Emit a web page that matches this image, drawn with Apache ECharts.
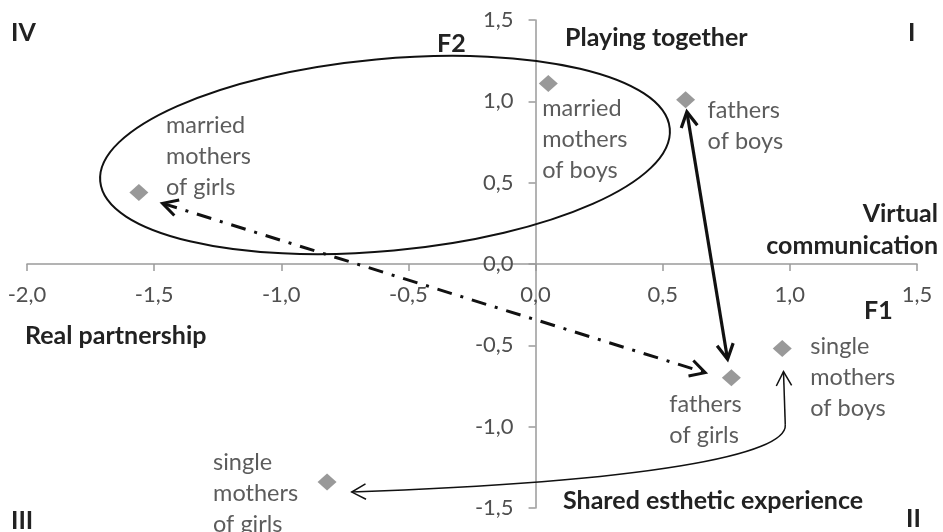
<!DOCTYPE html>
<html>
<head>
<meta charset="utf-8">
<script src="https://cdn.jsdelivr.net/npm/echarts@6/dist/echarts.min.js"></script>
<style>
html,body{margin:0;padding:0;background:#fff;}
#main{width:943px;height:532px;}
</style>
</head>
<body>
<div id="main"></div>
<script>
// points of the correspondence map (F1, F2)
var groups = ['married\nmothers\nof girls', 'married\nmothers\nof boys', 'fathers\nof boys', 'fathers\nof girls', 'single\nmothers\nof boys', 'single\nmothers\nof girls'];
var f1Values = [-1.56, 0.05, 0.59, 0.77, 0.97, -0.82];
var f2Values = [0.44, 1.11, 1.01, -0.70, -0.52, -1.34];
var xTicks = [-2.0, -1.5, -1.0, -0.5, 0.0, 0.5, 1.0, 1.5];
var yTicks = [-1.5, -1.0, -0.5, 0.0, 0.5, 1.0, 1.5];

// where each point label sits (offset from the diamond)
var labelPos = [
	{offset: [27, -36]},
	{offset: [-6, 56]},
	{offset: [22, 26]},
	{offset: [-62, 42]},
	{offset: [28, 29]},
	{offset: [-114, 11]}
];

var FONT = 'Lato';

function fmt(v){
	return v.toFixed(1).replace('.', ',');
}

var chart = echarts.init(document.getElementById('main'));

var option = {
	animation: false,
	grid: {left: 27, right: 26, top: 20, bottom: 24, containLabel: false, outerBoundsMode: 'none'},
	xAxis: {
		type: 'value',
		position: 'bottom',
		min: xTicks[0],
		max: xTicks[xTicks.length - 1],
		interval: 0.5,
		axisLine: {onZero: false, lineStyle: {color: '#9a9a9a', width: 1.5}},
		axisTick: {show: true, length: 7, lineStyle: {color: '#9a9a9a', width: 1.5}},
		axisLabel: {margin: 20, fontSize: 22, color: '#505050', fontFamily: FONT, formatter: fmt},
		splitLine: {show: false}
	},
	yAxis: {
		type: 'value',
		position: 'left',
		min: yTicks[0],
		max: yTicks[yTicks.length - 1],
		interval: 0.5,
		axisLine: {onZero: false, lineStyle: {color: '#9a9a9a', width: 1.5}},
		axisTick: {show: true, length: 7, lineStyle: {color: '#9a9a9a', width: 1.5}},
		axisLabel: {margin: 22, fontSize: 22, color: '#505050', fontFamily: FONT, formatter: fmt},
		splitLine: {show: false}
	},
	series: [{
		type: 'scatter',
		symbol: 'diamond',
		symbolSize: [19, 17],
		itemStyle: {color: '#7f7f7f'},
		z: 5,
		data: groups.map(function(name, i){
			return {
				value: [f1Values[i], f2Values[i]],
				name: name,
				label: {
					show: true,
					position: 'inside',
					align: 'left',
					verticalAlign: 'middle',
					offset: labelPos[i].offset,
					formatter: name,
					fontSize: 23.5,
					lineHeight: 31,
					fontFamily: FONT,
					color: '#333333'
				}
			};
		})
	}]
};
chart.setOption(option);

function px(p){
	return chart.convertToPixel({gridIndex: 0}, p);
}

// move both axes onto the zero lines
var zero = px([0, 0]);
var corner = px([xTicks[0], yTicks[0]]);
chart.setOption({
	xAxis: {offset: -(corner[1] - zero[1])},
	yAxis: {offset: -(zero[0] - corner[0])}
});

// annotations (arrows drawn in data space)
var solidArrow = [[0.595, 0.935], [0.755, -0.585]];
var dashArrow = [[-1.467, 0.373], [0.667, -0.668]];
var curveArrow = [[0.975, -0.662], [0.982, -0.989], [0.990, -1.173], [0.451, -1.339], [-0.723, -1.402]];

function head(tip, from, len){
	var dx = from[0] - tip[0], dy = from[1] - tip[1];
	var d = Math.sqrt(dx * dx + dy * dy);
	dx /= d; dy /= d;
	var c = Math.cos(0.5), s = Math.sin(0.5);
	return [
		[tip[0] + len * (dx * c - dy * s), tip[1] + len * (dx * s + dy * c)],
		tip,
		[tip[0] + len * (dx * c + dy * s), tip[1] + len * (-dx * s + dy * c)]
	];
}
function boldText(txt, x, y, align){
	return {
		type: 'text', z: 10,
		style: {text: txt, x: x, y: y, fill: '#222222', textAlign: align || 'left', textVerticalAlign: 'middle',
			font: 'bold 25px ' + FONT}
	};
}

var g = [];
// ellipse round the married mothers
var ec = [385, 155];
g.push({type: 'ellipse', z: 3, x: ec[0], y: ec[1], rotation: 5.3 * Math.PI / 180,
	shape: {cx: 0, cy: 0, rx: 286, ry: 96},
	style: {fill: 'none', stroke: '#111', lineWidth: 2}});

var a1 = px(solidArrow[0]), a2 = px(solidArrow[1]);
g.push({type: 'line', z: 4, shape: {x1: a1[0], y1: a1[1], x2: a2[0], y2: a2[1]}, style: {stroke: '#111', lineWidth: 3.2}});
g.push({type: 'polyline', z: 4, shape: {points: head(a1, a2, 17)}, style: {stroke: '#111', lineWidth: 3.2, fill: 'none'}});
g.push({type: 'polyline', z: 4, shape: {points: head(a2, a1, 17)}, style: {stroke: '#111', lineWidth: 3.2, fill: 'none'}});

var b1 = px(dashArrow[0]), b2 = px(dashArrow[1]);
g.push({type: 'line', z: 4, shape: {x1: b1[0], y1: b1[1], x2: b2[0], y2: b2[1]}, style: {stroke: '#111', lineWidth: 3, lineDash: [15, 9, 3, 9]}});
g.push({type: 'polyline', z: 4, shape: {points: head(b1, b2, 17)}, style: {stroke: '#111', lineWidth: 3, fill: 'none'}});
g.push({type: 'polyline', z: 4, shape: {points: head(b2, b1, 17)}, style: {stroke: '#111', lineWidth: 3, fill: 'none'}});

var c = curveArrow.map(px);
g.push({type: 'line', z: 4, shape: {x1: c[0][0], y1: c[0][1], x2: c[1][0], y2: c[1][1]}, style: {stroke: '#111', lineWidth: 1.5}});
g.push({type: 'bezierCurve', z: 4, shape: {x1: c[1][0], y1: c[1][1], cpx1: c[2][0], cpy1: c[2][1], cpx2: c[3][0], cpy2: c[3][1], x2: c[4][0], y2: c[4][1]},
	style: {stroke: '#111', lineWidth: 1.5, fill: 'none'}});
g.push({type: 'polyline', z: 4, shape: {points: head(c[0], c[1], 16)}, style: {stroke: '#111', lineWidth: 1.5, fill: 'none'}});
g.push({type: 'polyline', z: 4, shape: {points: head(c[4], c[3], 16)}, style: {stroke: '#111', lineWidth: 1.5, fill: 'none'}});

// quadrant and factor titles
g.push(boldText('IV', 11, 33));
g.push(boldText('I', 908, 33));
g.push(boldText('III', 11, 521));
g.push(boldText('II', 906, 519));
g.push(boldText('F2', 437, 44));
g.push(boldText('F1', 864, 311));
g.push(boldText('Playing together', 565, 38));
g.push(boldText('Virtual', 938, 214, 'right'));
g.push(boldText('communication', 938, 246, 'right'));
g.push(boldText('Real partnership', 25, 336));
g.push(boldText('Shared esthetic experience', 563, 501));

chart.setOption({graphic: g});
</script>
</body>
</html>
